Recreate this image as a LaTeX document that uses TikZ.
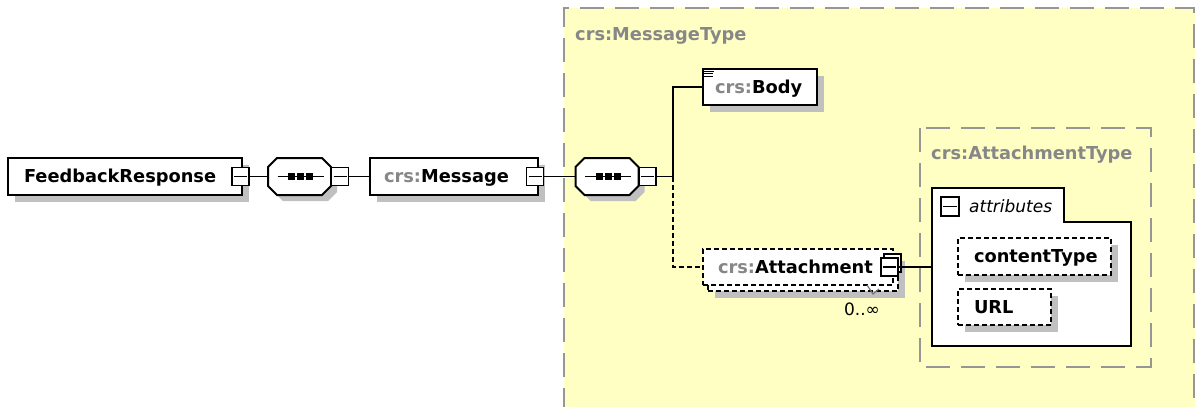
\documentclass[tikz,border=0pt]{standalone}
\usepackage{fontspec}
\setmainfont{DejaVu Sans}
\usetikzlibrary{shadows}
\definecolor{shgray}{RGB}{192,192,192}
\definecolor{crsgray}{RGB}{135,135,135}
\definecolor{rgray}{RGB}{150,150,150}
\definecolor{yel}{RGB}{255,255,196}
\newcommand\octa[3]{%
  \path[#3] (#1-22.5,#2-18.5) -- (#1+22.5,#2-18.5) -- (#1+31.5,#2-9.5) -- (#1+31.5,#2+9.5)
    -- (#1+22.5,#2+18.5) -- (#1-22.5,#2+18.5) -- (#1-31.5,#2+9.5) -- (#1-31.5,#2-9.5) -- cycle;}
\newcommand\seqdots[2]{%
  \draw[line width=1.8pt] (#1-23,#2) -- (#1+23,#2);
  \fill (#1-9-3.5,#2-3.5) rectangle (#1-9+3.5,#2+3.5);
  \fill (#1-3.5,#2-3.5) rectangle (#1+3.5,#2+3.5);
  \fill (#1+9-3.5,#2-3.5) rectangle (#1+9+3.5,#2+3.5);}
\newcommand\crs{{\color{crsgray}crs:}}
\begin{document}
\begin{tikzpicture}[x=1pt,y=-1pt,
  every node/.style={font=\fontsize{17.8}{20}\selectfont\bfseries},
  box/.style={draw=black, line width=2pt, fill=white, minimum height=37pt, anchor=west,
    align=left, text height=12.8pt, text depth=0pt, inner ysep=0pt},
  shad/.style={drop shadow={shadow xshift=7pt, shadow yshift=-7pt, fill=shgray, opacity=1}},
  dbox/.style={box, dash pattern=on 5pt off 3pt},
  minus/.style={draw=black, line width=1.8pt, fill=white, minimum width=17pt, minimum height=18pt,
    inner sep=0pt, path picture={\draw[line width=1.8pt] ([xshift=2pt]path picture bounding box.west)
    -- ([xshift=-2pt]path picture bounding box.east);}},
  frame/.style={minimum width=63pt, minimum height=37pt, inner sep=0pt},
  conn/.style={line width=1.8pt},
  region/.style={draw=rgray, line width=2.4pt, dash pattern=on 24pt off 11pt}]
\useasboundingbox (0,0) rectangle (1195,407);
\fill[white] (0,0) rectangle (1195,407);
% MessageType region
\fill[yel] (564,8) rectangle (1195,407);
\draw[region] (564,412) -- (564,8) -- (1194,8) -- (1194,412);
\node[anchor=base west, inner sep=0pt, text=crsgray] (mtl) at (575,40) {crs:MessageType};
% AttachmentType region
\draw[region] (920,128) rectangle (1151,367);
\node[anchor=base west, inner sep=0pt, text=crsgray] (atl) at (931,159) {crs:AttachmentType};

% FeedbackResponse
\node[box, shad, inner xsep=16pt, text width=202pt] (fr) at (7,176.5) {FeedbackResponse};
\node[minus] (frm) at (240.5,176.5) {};
% sequence 1
\node[frame] (s1) at (299.5,176.5) {};
\octa{305.5}{182.5}{fill=shgray}
\octa{299.5}{176.5}{draw=black, line width=2pt, fill=white}
\seqdots{300.5}{176.5}
\node[minus] (s1m) at (340,176.5) {};
% Message
\node[box, shad, inner xsep=14pt, text width=140pt] (msg) at (369,176.5) {\crs Message};
\node[minus] (msgm) at (535,176.5) {};
% sequence 2
\node[frame] (s2) at (607,176.5) {};
\octa{613}{182.5}{fill=shgray}
\octa{607}{176.5}{draw=black, line width=2pt, fill=white}
\seqdots{608}{176.5}
\node[minus] (s2m) at (647.5,176.5) {};
% Body
\node[box, shad, inner xsep=12pt, text width=90pt, minimum height=36pt] (body) at (702,87) {\crs Body};
\draw[line width=1.1pt] (704,71.5) -- (714,71.5) (704,73.9) -- (713,73.9) (704,76.3) -- (713,76.3);
% Attachment (stacked)
\node[dbox, shad, inner xsep=0pt, minimum width=190pt] (attb) at (707,272) {};
\node[dbox, inner xsep=15pt, text width=160pt, minimum height=36pt] (att) at (702,267) {\crs Attachment};
\node[minus] (attmb) at (892.5,263) {};
\node[minus] (attm) at (889.5,267) {};
\draw[line width=1.2pt, black!55] (867,285) -- (873,294) -- (879,289);
\node[font=\fontsize{17}{20}\selectfont] (occ) at (862,309) {0..∞};
% attributes
\draw[line width=2pt, fill=white] (932,188) -- (1064,188) -- (1064,222) -- (1131,222) -- (1131,346) -- (932,346) -- cycle;
\coordinate (attrsW) at (932,267);
\node[minus, minimum height=19pt, minimum width=18pt] (tabm) at (950,206.5) {};
\node[anchor=base west, inner sep=0pt, font=\fontsize{17}{20}\selectfont\itshape] (attrl) at (969,212) {attributes};
\node[dbox, shad, inner xsep=16pt, text width=121pt] (ct) at (957,256.5) {contentType};
\node[dbox, shad, inner xsep=16pt, text width=61pt, minimum height=36pt] (url) at (957,307) {URL};

% connectors
\coordinate (j) at (673,176.5);
\draw[conn] (frm.east) -- (s1.west);
\draw[conn] (s1m.east) -- (msg.west);
\draw[conn] (msgm.east) -- (s2.west);
\draw[conn] (s2m.east) -- (j) |- (body.west);
\draw[conn, dash pattern=on 5pt off 3pt] (j) |- (att.west);
\draw[conn] (attm.east) -- (attrsW);
\end{tikzpicture}
\end{document}
